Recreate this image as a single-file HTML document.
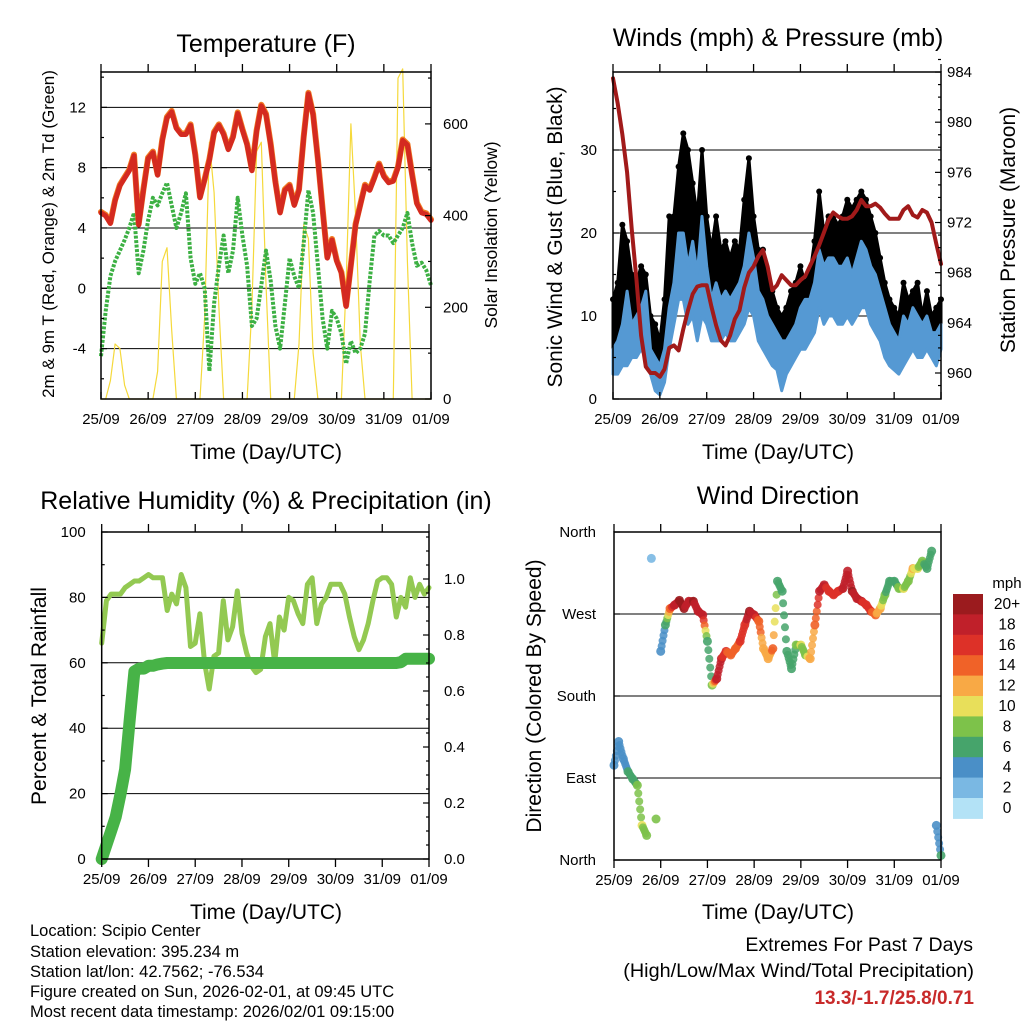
<!DOCTYPE html>
<html><head><meta charset="utf-8">
<style>
html,body{margin:0;padding:0;background:#fff;}
svg{display:block;font-family:"Liberation Sans",Arial,sans-serif;}
.t{font-size:25px;fill:#000;text-anchor:middle;}
.ax{font-size:21px;fill:#000;text-anchor:middle;}
.tk{font-size:15px;fill:#000;}
.ft{font-size:16.5px;fill:#000;}
</style></head>
<body>
<svg id="chart" width="1024" height="1024" viewBox="0 0 1024 1024">
<rect x="0" y="0" width="1024" height="1024" fill="#fff"/>
<text class="t" x="266" y="52">Temperature (F)</text>
<text class="t" x="778" y="46">Winds (mph) &amp; Pressure (mb)</text>
<text class="t" x="266" y="509">Relative Humidity (%) &amp; Precipitation (in)</text>
<text class="t" x="778" y="504">Wind Direction</text>
<text class="ax" x="266" y="459">Time (Day/UTC)</text>
<text class="ax" x="778" y="459">Time (Day/UTC)</text>
<text class="ax" x="266" y="919">Time (Day/UTC)</text>
<text class="ax" x="778" y="919">Time (Day/UTC)</text>
<text class="ax" style="font-size:17px" transform="translate(54,234) rotate(-90)">2m &amp; 9m T (Red, Orange) &amp; 2m Td (Green)</text>
<text class="ax" style="font-size:17.5px" transform="translate(497,235) rotate(-90)">Solar Insolation (Yellow)</text>
<text class="ax" transform="translate(562,237) rotate(-90)">Sonic Wind &amp; Gust (Blue, Black)</text>
<text class="ax" transform="translate(1015,230) rotate(-90)">Station Pressure (Maroon)</text>
<text class="ax" transform="translate(46,696) rotate(-90)">Percent &amp; Total Rainfall</text>
<text class="ax" transform="translate(541,696) rotate(-90)">Direction (Colored By Speed)</text>
<g>
<text class="ft" x="30" y="936">Location: Scipio Center</text>
<text class="ft" x="30" y="957">Station elevation: 395.234 m</text>
<text class="ft" x="30" y="977">Station lat/lon: 42.7562; -76.534</text>
<text class="ft" x="30" y="997">Figure created on Sun, 2026-02-01, at 09:45 UTC</text>
<text class="ft" x="30" y="1017">Most recent data timestamp: 2026/02/01 09:15:00</text>
</g>
<text class="ft" x="973" y="951" text-anchor="end" style="font-size:19.5px">Extremes For Past 7 Days</text>
<text class="ft" x="974" y="977" text-anchor="end" style="font-size:19.8px">(High/Low/Max Wind/Total Precipitation)</text>
<text class="ft" x="974" y="1004" text-anchor="end" style="font-size:19px;font-weight:bold;fill:#c82a2a">13.3/-1.7/25.8/0.71</text>
</svg>
<script>
// ---- data (sampled every 0.1 day) ----
const dayLabels=["25/09","26/09","27/09","28/09","29/09","30/09","31/09","01/09"];
const tempTicks=[-4,0,4,8,12];
const solarTicks=[0,200,400,600];
const windTicks=[0,10,20,30];
const pressTicks=[960,964,968,972,976,980,984];
const rhTicks=[0,20,40,60,80,100];
const rainTicks=["0.0","0.2","0.4","0.6","0.8","1.0"];
const dirLabels=["North","East","South","West","North"];
const speedBins=["0","2","4","6","8","10","12","14","16","18","20+"];
const temp2m=[5.0,4.8,4.3,5.8,6.8,7.3,7.8,8.8,4.2,6.5,8.6,9.0,7.5,9.8,11.3,11.7,10.6,10.2,10.2,10.8,8.8,6.0,7.2,8.5,10.3,10.8,10.2,9.2,10.0,11.6,10.5,9.5,7.8,10.4,12.1,11.5,9.5,7.0,5.0,6.5,6.8,5.5,6.5,10.0,12.9,11.5,8.5,5.2,2.0,3.2,1.8,1.0,-1.2,1.5,4.2,5.5,6.8,6.5,7.3,8.2,7.4,7.0,7.1,8.0,9.8,9.5,7.5,5.6,5.0,4.9,4.5];
const dew2m=[-4.5,-1.5,0.8,1.8,2.5,3.2,4.0,5.0,1.0,2.5,4.5,6.0,5.5,6.3,7.0,5.5,4.0,5.0,6.3,2.0,0.3,1.0,0.0,-5.5,-1.0,1.5,3.5,1.0,2.5,6.0,3.5,1.5,-2.5,-2.0,0.2,2.5,0.5,-2.5,-4.0,-1.0,2.0,0.8,0.0,3.0,6.5,5.0,1.5,-2.0,-4.0,-1.5,-2.0,-3.0,-5.0,-3.5,-4.3,-4.0,-3.0,0.5,3.5,3.8,3.5,3.5,3.0,3.5,4.0,5.0,3.0,1.5,1.7,1.2,0.2];
const solar=[0,0,40,120,110,30,0,0,0,0, 0,0,60,300,330,150,0,0,0,0, 0,0,180,560,450,200,0,0,0,0, 0,0,200,540,560,250,0,0,0,0, 0,0,120,380,350,100,0,0,0,0, 0,0,250,600,400,120,0,0,0,0, 0,0,0,700,720,300,0,0,0,0,0];
const gust=[12,14,21,19,15,14,16,15,10,9,7,12,22,22,28,32,30,26,22,30,22,18,22,18,19,17,19,18,24,29,22,18,18,15,13,11,10,11,13,14,16,14,15,19,25,20,22,22,21,22,24,23,24,25,24,22,20,17,14,12,11,10,14,12,13,14,10,13,10,11,12];
const windHi=[6,7,9,13,9,10,11,13,6,5,4,6,11,14,20,20,16,19,15,22,16,12,14,12,13,12,13,14,16,20,17,13,12,10,9,8,7,7,8,9,11,12,12,14,18,16,17,17,16,16,17,15,17,19,18,16,15,13,11,9,8,7,10,9,11,10,9,10,8,8,9];
const windLo=[3,3,4,4,5,5,6,5,3,1,0.5,2,6,9,12,12,9,10,7,10,9,7,7,7,8,7,7,8,9,11,10,7,6,5,4,3.5,1,3,4,5,6,6,7,8,11,9,10,10,9,9,10,9,10,11,11,9,8,7,5,4,3.5,3,4,5,6,5,5,6,5,4,6];
const pressure=[983.5,981.5,979,976,971.5,967.5,963,960.5,960,960,959.7,960.3,962,962.2,961.8,963.5,965,966.3,966.9,967,967,965.3,963.8,962.6,962.2,963,964.3,965,966.8,968,968.5,969.3,969.8,968.5,966.6,967,967.8,967.4,967,967,967.4,967.7,968.5,969.3,970.2,971.2,972.2,972.8,972.5,972.3,972.3,972.5,973,973.8,973.3,973.3,973.5,973.2,972.7,972.3,972.3,972.3,973,973.3,972.6,972.4,973,972.8,972,970.3,968.7];
const rh=[66,79,81,81,81,83,84,85,85,86,87,86,86,86,76,81,78,87,83,65,66,75,60,52,62,63,79,67,71,82,69,63,59,57,58,68,72,60,74,70,80,79,75,72,84,86,72,78,80,84,84,84,81,74,68,64,67,72,79,85,86,86,84,74,80,77,86,80,84,81,83];
const rain=[0,0.05,0.1,0.15,0.23,0.32,0.5,0.67,0.68,0.68,0.69,0.69,0.695,0.698,0.7,0.7,0.7,0.7,0.7,0.7,0.7,0.7,0.7,0.7,0.7,0.7,0.7,0.7,0.7,0.7,0.7,0.7,0.7,0.7,0.7,0.7,0.7,0.7,0.7,0.7,0.7,0.7,0.7,0.7,0.7,0.7,0.7,0.7,0.7,0.7,0.7,0.7,0.7,0.7,0.7,0.7,0.7,0.7,0.7,0.7,0.7,0.7,0.7,0.7,0.703,0.715,0.715,0.715,0.715,0.715,0.715];
const direction=[104,130,111,97,89,82,38,27,331,45,229,258,276,280,285,276,284,284,273,269,240,192,199,221,229,225,232,240,258,273,269,262,232,221,232,306,295,229,210,236,236,225,221,258,295,302,295,291,295,298,317,295,287,284,280,273,269,276,291,306,306,298,298,306,320,320,328,320,339,38,5];
const dirSpeed=[4,4,5,6,7,8,10,9,3,8,4,6,14,19,20,20,19,20,18,19,7,8,18,18,16,15,14,16,17,20,19,15,13,12,15,7,6,7,7,8,10,9,13,14,18,19,16,17,17,18,19,20,19,18,17,16,14,12,8,7,6,9,10,8,12,10,9,6,7,5,6];
const binColors=["#b3e2f6","#7ab8e3","#4a8fc7","#46a46b","#7dc24a","#e8df5a","#f8a945","#f06228","#dd3128","#c0202a","#9b1b1e"];

// ---- axis functions ----
const NS='http://www.w3.org/2000/svg';
const svg=document.getElementById('chart');
function mk(tag,attrs,parent){const e=document.createElementNS(NS,tag);for(const k in attrs)e.setAttribute(k,attrs[k]);(parent||svg).appendChild(e);return e;}
const P1={x0:101,x1:431,y0:72,y1:399};
const P2={x0:613,x1:941,y0:72,y1:399};
const P3={x0:101.7,x1:429,y0:532,y1:859};
const P4={x0:614,x1:941,y0:532,y1:860};
function dx(P,d){return P.x0+d*(P.x1-P.x0)/7;}
const tY=v=>288.3-v*15.08;
const sY=v=>399-v*0.4585;
const wY=v=>399-v*8.3;
const pY=v=>373-(v-960)*12.54;
const rhY=v=>859-v*3.27;
const rnY=v=>859-v*280;
const dY=v=>860-v*0.9111;
const step=0.1;

function grid(P,ys,name){ys.forEach(y=>{const l=mk('line',{x1:P.x0,x2:P.x1,y1:y,y2:y,stroke:'#000','stroke-width':1});

});}
function frame(P,name,bottomOut){
  const r=mk('rect',{x:P.x0,y:P.y0,width:P.x1-P.x0,height:P.y1-P.y0,fill:'none',stroke:'#000','stroke-width':1.5});
  
  
  for(let i=0;i<dayLabels.length;i++){
    const x=dx(P,i);
    const t=mk('line',{x1:x,x2:x,y1:P.y0-8,y2:P.y0,stroke:'#000','stroke-width':1.3});
    
    
    const b=mk('line',{x1:x,x2:x,y1:P.y1,y2:bottomOut?P.y1+8:P.y1-7,stroke:'#000','stroke-width':1.3});
    
    
    const lb=mk('text',{x:x,y:P.y1+25,class:'tk','text-anchor':'middle'});
    lb.textContent=dayLabels[i];
    
    
  }
}
function yTick(x,y,len,label,anchor,lx,name){
  const t=mk('line',{x1:x,x2:x+len,y1:y,y2:y,stroke:'#000','stroke-width':1.2});
  
  
  if(label!==null){const lb=mk('text',{x:lx,y:y+5,class:'tk','text-anchor':anchor});lb.textContent=label;
  
  }
}
function pts(arr,P,yf){return arr.map((v,i)=>dx(P,i*step).toFixed(1)+','+yf(v).toFixed(1)).join(' ');}
function poly(arr,P,yf,stroke,w,name,extra){
  const p=mk('polyline',Object.assign({points:pts(arr,P,yf),fill:'none',stroke:stroke,'stroke-width':w,'stroke-linejoin':'round','stroke-linecap':'round'},extra||{}));
  
  
  return p;
}
function band(lo,hi,P,yf,color,name){
  const top=hi.map((v,i)=>dx(P,i*step).toFixed(1)+','+yf(v).toFixed(1));
  const bot=lo.map((v,i)=>dx(P,i*step).toFixed(1)+','+yf(v).toFixed(1)).reverse();
  const p=mk('polygon',{points:top.concat(bot).join(' '),fill:color,stroke:color,'stroke-width':3,'stroke-linejoin':'round'});
  
  
}

// ---- Panel 1: temperature ----
grid(P1,tempTicks.map(tY),'temp-gridline');
poly(solar,P1,sY,'#f5d93b',1.2,'solar-line');
poly(dew2m,P1,tY,'#3cb043',4,'dewpoint-line',{'stroke-dasharray':'3 1.5','stroke-linecap':'butt'});
poly(temp2m,P1,v=>tY(v)-1,'#f07a22',6,'temp-9m-line');
poly(temp2m,P1,tY,'#d42a20',5,'temp-2m-line');
frame(P1,'temp-plot-frame',false);
tempTicks.forEach(v=>yTick(P1.x0,tY(v),6,String(v),'end',P1.x0-15,'temp-y'));
for(let v=-6;v<=14;v+=2){if(v%4)yTick(P1.x0,tY(v),3,null,'end',0,'temp-y-minor');}
solarTicks.forEach(v=>yTick(P1.x1,sY(v),-6,String(v),'start',P1.x1+12,'solar-y'));
for(let v=100;v<=700;v+=100){if(v%200)yTick(P1.x1,sY(v),-3,null,'start',0,'solar-y-minor');}

// ---- Panel 2: winds ----
grid(P2,windTicks.slice(1).map(wY),'wind-gridline');
band(windHi,gust,P2,wY,'#000','gust-band');
gust.forEach((g,i)=>{
  const c=mk('circle',{cx:dx(P2,i*step),cy:wY(g),r:3,fill:'#000'});
  
  
});
band(windLo,windHi,P2,wY,'#5599d3','wind-band');
poly(pressure,P2,pY,'#a11a1a',4,'pressure-line');
frame(P2,'winds-plot-frame',false);
windTicks.forEach(v=>yTick(P2.x0,wY(v),6,String(v),'end',P2.x0-16,'wind-y'));
for(let v=5;v<=35;v+=10)yTick(P2.x0,wY(v),3,null,'end',0,'wind-y-minor');
pressTicks.forEach(v=>yTick(P2.x1,pY(v),-6,String(v),'start',P2.x1+6,'pressure-y'));
for(let v=959;v<=985;v++){if(v%4)yTick(P2.x1,pY(v),-3,null,'start',0,'pressure-y-minor');}

// ---- Panel 3: humidity & rain ----
grid(P3,rhTicks.slice(1,5).map(rhY),'humidity-gridline');
poly(rh,P3,rhY,'#93c952',5,'humidity-line');
poly(rain,P3,rnY,'#47b347',12,'rainfall-line');
frame(P3,'humidity-plot-frame',true);
rhTicks.forEach(v=>yTick(P3.x0,rhY(v),6,String(v),'end',P3.x0-16,'humidity-y'));
for(let v=10;v<=90;v+=20)yTick(P3.x0,rhY(v),3,null,'end',0,'humidity-y-minor');
rainTicks.forEach((s,i)=>yTick(P3.x1,rnY(i*0.2),-6,s,'start',P3.x1+15,'rain-y'));
for(let i=1;i<=23;i++){if(i%4)yTick(P3.x1,rnY(i*0.05),-3,null,'start',0,'rain-y-minor');}

// ---- Panel 4: wind direction ----
grid(P4,[90,180,270].map(dY),'direction-gridline');
function binOf(s){return Math.max(0,Math.min(10,Math.floor(s/2)));}
direction.forEach((d,i)=>{
  const x=dx(P4,i*step);
  if(i>0&&Math.abs(direction[i-1]-d)<100){
    const n=5;
    for(let k=1;k<n;k++){
      const f=k/n,dd=direction[i-1]+(d-direction[i-1])*f,ss=dirSpeed[i-1]+(dirSpeed[i]-dirSpeed[i-1])*f;
      const c=mk('circle',{cx:dx(P4,(i-1+f)*step),cy:dY(dd),r:4,fill:binColors[binOf(ss)],'fill-opacity':0.85});
      
      
    }
  }
  const c=mk('circle',{cx:x,cy:dY(d),r:4.5,fill:binColors[binOf(dirSpeed[i])],'fill-opacity':0.9});
  
  
});
frame(P4,'direction-plot-frame',true);
dirLabels.forEach((s,i)=>yTick(P4.x0,dY(i*90),6,s,'end',P4.x0-18,'direction-y'));
// colorbar
const cbTop=594,cbH=20.4;
const cbTitle=mk('text',{x:1007,y:588,class:'tk','text-anchor':'middle',style:'font-size:15px'});
cbTitle.textContent='mph';


speedBins.forEach((s,i)=>{
  const j=10-i;
  const r=mk('rect',{x:953,y:cbTop+i*cbH,width:30,height:cbH+0.5,fill:binColors[j]});
  
  
  const t=mk('text',{x:1007,y:cbTop+i*cbH+15,class:'tk','text-anchor':'middle',style:'font-size:15.5px'});
  t.textContent=speedBins[j];
  
  
});
</script>
</body></html>
